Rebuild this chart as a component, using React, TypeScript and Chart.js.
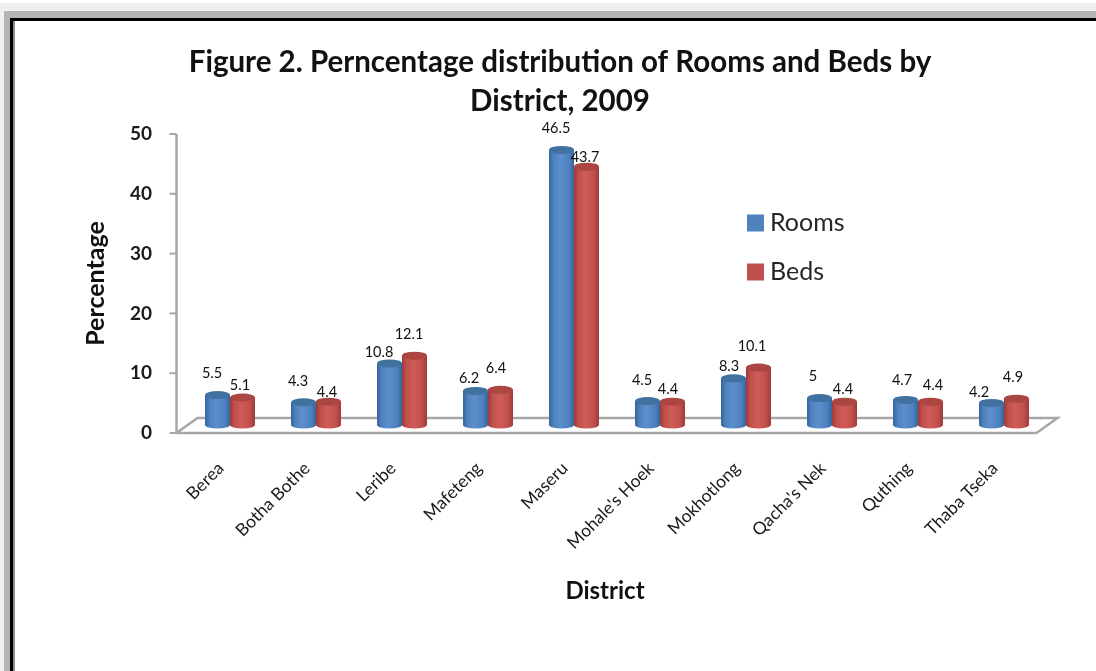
import React, { useEffect, useRef } from "react";
import { Chart, registerables } from "chart.js";

Chart.register(...registerables);

const districts = ["Berea", "Botha Bothe", "Leribe", "Mafeteng", "Maseru", "Mohale's Hoek", "Mokhotlong", "Qacha's Nek", "Quthing", "Thaba Tseka"];
const rooms = [5.5, 4.3, 10.8, 6.2, 46.5, 4.5, 8.3, 5, 4.7, 4.2];
const beds = [5.1, 4.4, 12.1, 6.4, 43.7, 4.4, 10.1, 4.4, 4.4, 4.9];
const titleLines = ["Figure 2. Perncentage distribution of Rooms and Beds by", "District, 2009"];
const xAxisTitle = "District";
const yAxisTitle = "Percentage";

// label nudges, as the reference places each value label by hand
const roomLabelDx = [-5.5, -5.5, -10.5, -6.5, -5.5, -5.5, -4.5, -6.5, -3.5, -12.5];
const roomLabelDy = [-22, -21, -11, -13, -22, -21, -12, -22, -20, -11];
const bedLabelDx = [-2.5, -1.5, -5.5, -4.5, -1.5, -4.5, -6.5, -1.5, 2.5, -3.5];
const bedLabelDy = [-12, -9, -21, -21, -9, -12, -21, -12, -16, -21];

const FONT = "Lato, Carlito, Calibri, sans-serif";
const BAR_LIFT = 5;
const DEPTH_X = 10.5;
const DEPTH_Y = 15;
const AXIS = "#a6a6a6";
const BAR_FOOT = 0.5;

const palettes = [
  { base: "#4f81bd", edge: "#35659c", mid: "#5b8fce", cap: "#41719f" },
  { base: "#c0504d", edge: "#9c3b39", mid: "#d05c58", cap: "#ab4643" },
];

const framePlugin = {
  id: "frame",
  beforeDraw(chart: any) {
    const { ctx, width, height } = chart;
    ctx.save();
    ctx.fillStyle = "#ffffff";
    ctx.fillRect(0, 0, width, height);
    ctx.fillStyle = "#f0f0f0";
    ctx.fillRect(0, 3, width, height);
    ctx.fillStyle = "#b4b4b4";
    ctx.fillRect(4, 11, width, height);
    ctx.fillStyle = "#000000";
    ctx.fillRect(10, 18, width, height);
    ctx.fillStyle = "#8c8c8c";
    ctx.fillRect(13, 21, width, height);
    ctx.fillStyle = "#ffffff";
    ctx.fillRect(15, 21, width, height);
    ctx.restore();
  },
};

const floorPlugin = {
  id: "floor",
  beforeDatasetsDraw(chart: any) {
    const { ctx, chartArea, scales } = chart;
    const front = chartArea.bottom;
    const axisX = chartArea.left - DEPTH_X;
    const farRight = chartArea.right + DEPTH_X;
    ctx.save();
    ctx.strokeStyle = AXIS;
    ctx.lineWidth = 2.5;
    ctx.beginPath();
    ctx.moveTo(axisX, front);
    ctx.lineTo(axisX + 2 * DEPTH_X, front - DEPTH_Y);
    ctx.lineTo(farRight, front - DEPTH_Y);
    ctx.lineTo(farRight - 2 * DEPTH_X, front);
    ctx.lineTo(axisX, front);
    ctx.stroke();
    ctx.beginPath();
    ctx.moveTo(axisX, chartArea.top);
    ctx.lineTo(axisX, front);
    ctx.stroke();
    ctx.lineWidth = 2;
    for (const t of scales.y.ticks) {
      const y = scales.y.getPixelForValue(t.value);
      ctx.beginPath();
      ctx.moveTo(axisX - 7, y);
      ctx.lineTo(axisX, y);
      ctx.stroke();
    }
    ctx.restore();
    ctx.save();
    ctx.translate(0, -BAR_LIFT);
  },
  afterDatasetsDraw(chart: any) {
    const { ctx } = chart;
    chart.data.datasets.forEach((_: any, d: number) => {
      const p = palettes[d];
      chart.getDatasetMeta(d).data.forEach((el: any) => {
        const left = el.x - el.width / 2;
        const right = el.x + el.width / 2;
        const rx = el.width / 2;
        const g = ctx.createLinearGradient(left, 0, right, 0);
        g.addColorStop(0, p.edge);
        g.addColorStop(0.18, p.base);
        g.addColorStop(0.45, p.mid);
        g.addColorStop(0.8, p.base);
        g.addColorStop(1, p.edge);
        ctx.fillStyle = g;
        ctx.fillRect(left, el.y, el.width, el.base - el.y);
        ctx.beginPath();
        ctx.ellipse(el.x, el.base, rx, 3.5, 0, 0, Math.PI * 2);
        ctx.fill();
        ctx.fillStyle = p.cap;
        ctx.beginPath();
        ctx.ellipse(el.x, el.y, rx, 4, 0, 0, Math.PI * 2);
        ctx.fill();
      });
    });
    ctx.restore();
  },
};

const textPlugin = {
  id: "valueText",
  afterDatasetsDraw(chart: any) {
    const { ctx, chartArea } = chart;
    const dxs = [roomLabelDx, bedLabelDx];
    const dys = [roomLabelDy, bedLabelDy];
    ctx.save();
    ctx.fillStyle = "#111111";
    ctx.textAlign = "center";
    ctx.textBaseline = "middle";
    ctx.font = `14.5px ${FONT}`;
    chart.data.datasets.forEach((ds: any, d: number) => {
      chart.getDatasetMeta(d).data.forEach((el: any, i: number) => {
        ctx.fillText(String(ds.data[i]), el.x + dxs[d][i], el.y - BAR_LIFT + dys[d][i]);
      });
    });
    ctx.font = `bold 24px ${FONT}`;
    ctx.fillStyle = "#111111";
    ctx.fillText(xAxisTitle, (chartArea.left + chartArea.right) / 2 - 12, 591);

    // legend, laid out as in the reference: a narrow gap between swatch and text
    ctx.textAlign = "left";
    ctx.font = `25px ${FONT}`;
    chart.data.datasets.forEach((ds: any, d: number) => {
      const cy = 223 + d * 49;
      ctx.fillStyle = palettes[d].base;
      ctx.fillRect(747, cy - 8.5, 17, 17);
      ctx.fillStyle = "#262626";
      ctx.fillText(ds.label, 770, cy);
    });
    ctx.restore();
  },
};

export default function App() {
  const ref = useRef<HTMLCanvasElement>(null);
  useEffect(() => {
    const chart = new Chart(ref.current as HTMLCanvasElement, {
      type: "bar",
      data: {
        labels: districts,
        datasets: [
          { label: "Rooms", data: rooms, backgroundColor: palettes[0].base, base: BAR_FOOT },
          { label: "Beds", data: beds, backgroundColor: palettes[1].base, base: BAR_FOOT },
        ],
      },
      plugins: [framePlugin, floorPlugin, textPlugin],
      options: {
        responsive: false,
        animation: false,
        events: [],
        devicePixelRatio: 1,
        categoryPercentage: 0.58,
        barPercentage: 1,
        layout: { padding: { left: 73, right: 49, top: 0, bottom: 38 } },
        plugins: {
          tooltip: { enabled: false },
          legend: { display: false },
          title: {
            display: true,
            text: titleLines,
            color: "#111111",
            font: { family: FONT, size: 29.5, weight: "bold", lineHeight: 1.322 },
            padding: { top: 43, bottom: 13 },
          },
        },
        scales: {
          x: {
            afterFit: (s: any) => { s.height = 200; },
            grid: { display: false, drawTicks: false },
            border: { display: false },
            ticks: {
              autoSkip: false,
              minRotation: 45,
              maxRotation: 45,
              padding: 25,
              labelOffset: -9,
              color: "#1a1a1a",
              font: { family: FONT, size: 17.5 },
            },
          },
          y: {
            min: 0,
            max: 50,
            afterFit: (s: any) => { s.width = 114; },
            grid: { display: false, drawTicks: false },
            border: { display: false },
            ticks: {
              stepSize: 10,
              padding: 35,
              color: "#1a1a1a",
              font: { family: FONT, size: 19, weight: "bold" },
            },
            title: {
              display: true,
              text: yAxisTitle,
              color: "#111111",
              padding: { top: 8, bottom: 0 },
              font: { family: FONT, size: 25, weight: "bold" },
            },
          },
        },
      } as any,
    });
    return () => chart.destroy();
  }, []);
  return (
    <div style={{ position: "fixed", left: 0, top: 0, width: 1096, height: 671 }}>
      <canvas ref={ref} width={1096} height={671} style={{ display: "block", filter: "blur(0.35px)" }} />
    </div>
  );
}
